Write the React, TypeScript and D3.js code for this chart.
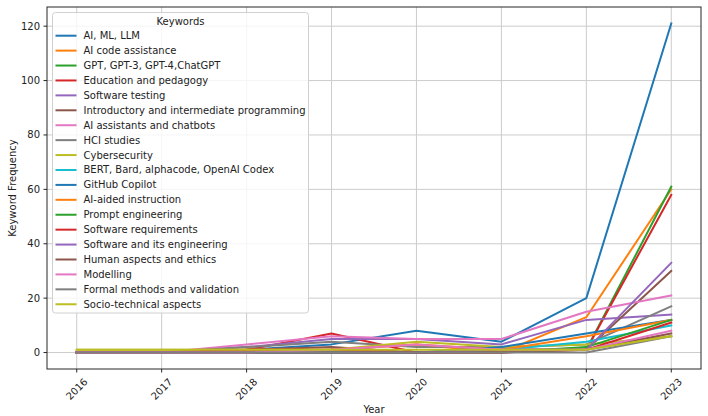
import React from "react";
import * as d3 from "d3";

const years = [2016, 2017, 2018, 2019, 2020, 2021, 2022, 2023];
const yTicks = [0, 20, 40, 60, 80, 100, 120];

const aiMlLlm = [0, 0, 1, 3, 8, 4, 20, 121];
const aiCodeAssistance = [0, 0, 0, 1, 3, 0, 13, 60];
const gptFamily = [0, 0, 0, 0, 0, 1, 1, 61];
const educationPedagogy = [0, 0, 1, 7, 0, 1, 1, 58];
const softwareTesting = [0, 0, 2, 5, 5, 3, 12, 14];
const introProgramming = [0, 0, 1, 2, 0, 1, 1, 30];
const aiAssistants = [0, 0, 3, 6, 5, 5, 15, 21];
const hciStudies = [0, 0, 2, 4, 2, 2, 3, 17];
const cybersecurity = [1, 1, 1, 1, 4, 2, 3, 6];
const bertBard = [0, 0, 0, 0, 0, 1, 4, 10];
const githubCopilot = [0, 0, 0, 0, 0, 2, 7, 12];
const aiAidedInstruction = [0, 0, 0, 1, 3, 1, 6, 12];
const promptEngineering = [0, 0, 0, 0, 0, 0, 2, 12];
const softwareRequirements = [0, 0, 1, 1, 0, 0, 1, 11];
const softwareEngineering = [0, 0, 0, 0, 0, 1, 1, 33];
const humanAspects = [0, 0, 0, 0, 0, 0, 1, 7];
const modelling = [0, 0, 0, 1, 3, 1, 1, 8];
const formalMethods = [0, 0, 0, 0, 0, 0, 0, 6];
const socioTechnical = [1, 1, 1, 1, 1, 1, 1, 6];

const seriesNames = [
  "AI, ML, LLM",
  "AI code assistance",
  "GPT, GPT-3, GPT-4,ChatGPT",
  "Education and pedagogy",
  "Software testing",
  "Introductory and intermediate programming",
  "AI assistants and chatbots",
  "HCI studies",
  "Cybersecurity",
  "BERT, Bard, alphacode, OpenAI Codex",
  "GitHub Copilot",
  "AI-aided instruction",
  "Prompt engineering",
  "Software requirements",
  "Software and its engineering",
  "Human aspects and ethics",
  "Modelling",
  "Formal methods and validation",
  "Socio-technical aspects",
];

const seriesValues = [
  aiMlLlm,
  aiCodeAssistance,
  gptFamily,
  educationPedagogy,
  softwareTesting,
  introProgramming,
  aiAssistants,
  hciStudies,
  cybersecurity,
  bertBard,
  githubCopilot,
  aiAidedInstruction,
  promptEngineering,
  softwareRequirements,
  softwareEngineering,
  humanAspects,
  modelling,
  formalMethods,
  socioTechnical,
];

const palette = [
  "#1f77b4", "#ff7f0e", "#2ca02c", "#d62728", "#9467bd",
  "#8c564b", "#e377c2", "#7f7f7f", "#bcbd22", "#17becf",
];

const W = 708;
const H = 416;
const left = 47;
const right = 701;
const top = 7;
const bottom = 369;
const font = "'DejaVu Sans', sans-serif";

export default function App() {
  const x = d3.scaleLinear().domain([2015.65, 2023.35]).range([left, right]);
  const y = d3.scaleLinear().domain([-6.05, 127.05]).range([bottom, top]);
  const line = d3
    .line<number>()
    .x((_, i) => x(years[i]))
    .y((d) => y(d));

  const legX = 52.5;
  const legY = 12.5;
  const legW = 256;
  const legH = 300.5;
  const rowStep = 14.92;
  const firstRow = 35.7;

  return (
    <svg
      width={W}
      height={H}
      style={{ position: "absolute", left: 0, top: 0, background: "#fff" }}
      fontFamily={font}
    >
      <rect x={0} y={0} width={W} height={H} fill="#fff" />
      {years.map((yr) => (
        <line
          key={"gx" + yr}
          x1={x(yr)}
          x2={x(yr)}
          y1={top}
          y2={bottom}
          stroke="#cccccc"
          strokeWidth={1}
        />
      ))}
      {yTicks.map((t) => (
        <line
          key={"gy" + t}
          x1={left}
          x2={right}
          y1={y(t)}
          y2={y(t)}
          stroke="#cccccc"
          strokeWidth={1}
        />
      ))}
      <defs>
        <clipPath id="clip">
          <rect x={left} y={top} width={right - left} height={bottom - top} />
        </clipPath>
      </defs>
      <g clipPath="url(#clip)">
        {seriesValues.map((vals, i) => (
          <path
            key={"s" + i}
            d={line(vals) || ""}
            fill="none"
            stroke={palette[i % palette.length]}
            strokeWidth={2}
            strokeLinejoin="round"
            strokeLinecap="square"
          />
        ))}
      </g>
      <rect
        x={left}
        y={top}
        width={right - left}
        height={bottom - top}
        fill="none"
        stroke="#262626"
        strokeWidth={1}
      />
      {yTicks.map((t) => (
        <g key={"yt" + t}>
          <line x1={left - 3.5} x2={left} y1={y(t)} y2={y(t)} stroke="#262626" strokeWidth={1} />
          <text
            x={left - 7}
            y={y(t)}
            textAnchor="end"
            dominantBaseline="central"
            fontSize={10}
            fill="#222"
          >
            {t}
          </text>
        </g>
      ))}
      {years.map((yr) => (
        <g key={"xt" + yr}>
          <line x1={x(yr)} x2={x(yr)} y1={bottom} y2={bottom + 3.5} stroke="#262626" strokeWidth={1} />
          <text
            x={x(yr)}
            y={389}
            textAnchor="middle"
            dominantBaseline="central"
            fontSize={10}
            fill="#222"
            transform={`rotate(-45 ${x(yr)} 389)`}
          >
            {yr}
          </text>
        </g>
      ))}
      <text x={(left + right) / 2} y={409} textAnchor="middle" dominantBaseline="central" fontSize={10} fill="#222">
        Year
      </text>
      <text
        x={12}
        y={(top + bottom) / 2}
        textAnchor="middle"
        dominantBaseline="central"
        fontSize={10}
        fill="#222"
        transform={`rotate(-90 12 ${(top + bottom) / 2})`}
      >
        Keyword Frequency
      </text>
      <rect
        x={legX}
        y={legY}
        width={legW}
        height={legH}
        rx={3}
        ry={3}
        fill="#fff"
        fillOpacity={0.8}
        stroke="#d0d0d0"
        strokeWidth={1}
      />
      <text
        x={legX + legW / 2}
        y={21}
        textAnchor="middle"
        dominantBaseline="central"
        fontSize={10}
        fill="#222"
      >
        Keywords
      </text>
      {seriesNames.map((name, i) => {
        const ry = firstRow + i * rowStep;
        return (
          <g key={"lg" + i}>
            <line
              x1={55.5}
              x2={76.5}
              y1={ry}
              y2={ry}
              stroke={palette[i % palette.length]}
              strokeWidth={2}
            />
            <text x={83.5} y={ry} dominantBaseline="central" fontSize={10} fill="#222">
              {name}
            </text>
          </g>
        );
      })}
    </svg>
  );
}
